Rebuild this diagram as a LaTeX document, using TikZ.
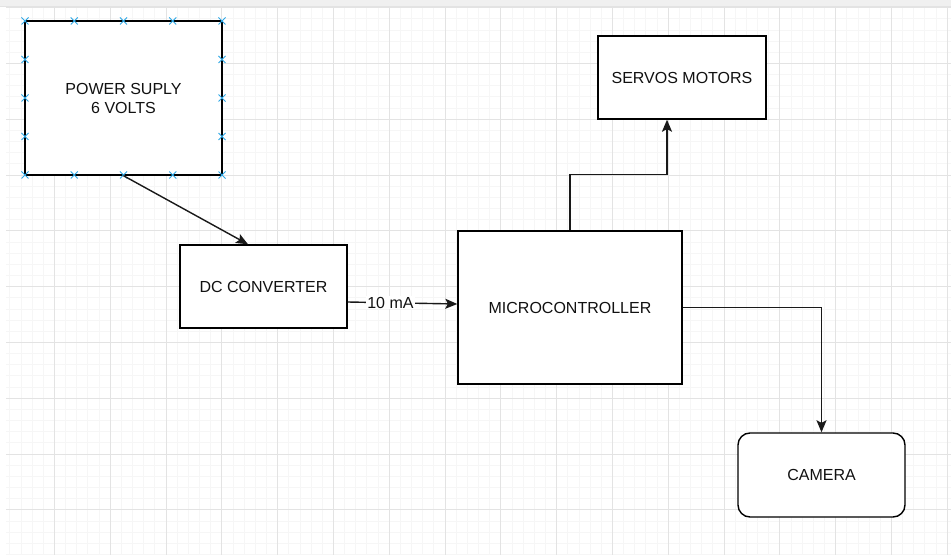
\documentclass[tikz,border=0pt]{standalone}
\usepackage{fontspec}
\setmainfont{Liberation Sans}
\usetikzlibrary{arrows.meta}
\definecolor{minorgrid}{HTML}{F6F6F6}
\definecolor{majorgrid}{HTML}{E3E3E3}
\definecolor{bandgray}{HTML}{F0F0F0}
\definecolor{xblue}{HTML}{2EA8E6}
\definecolor{txt}{HTML}{111111}
\tikzset{
  box/.style={draw=black, line width=1.4pt, fill=white, inner sep=0pt, align=center,
    font=\fontsize{16}{19}\selectfont, text=txt},
  conn/.style={line width=1.4pt, draw=black!90, -{Stealth[length=12pt,width=10pt,inset=2.5pt]}},
  xmark/.style={draw=xblue, line width=1pt},
}
\begin{document}
\begin{tikzpicture}[x=1pt,y=-1pt]
\useasboundingbox (0,0) rectangle (951,556);
\fill[white] (0,0) rectangle (951,556);
\fill[bandgray] (0,0) rectangle (951,6);
\draw[majorgrid, line width=1pt] (0,6.5) -- (951,6.5);
% grid
\begin{scope}
\clip (6,7) rectangle (951,555);
\foreach \i in {0,...,86} {
  \pgfmathsetmacro{\xx}{round(-1.8+11.16*\i)+0.5}
  \draw[minorgrid, line width=1pt] (\xx,7) -- (\xx,555);
}
\foreach \j in {0,...,49} {
  \pgfmathsetmacro{\yy}{round(7.2+11.16*\j)+0.5}
  \draw[minorgrid, line width=1pt] (6,\yy) -- (951,\yy);
}
\foreach \i in {0,...,17} {
  \pgfmathsetmacro{\xx}{round(-1.8+55.8*\i)+0.5}
  \draw[majorgrid, line width=1pt] (\xx,7) -- (\xx,555);
}
\foreach \j in {0,...,9} {
  \pgfmathsetmacro{\yy}{round(7.2+55.8*\j)+0.5}
  \draw[majorgrid, line width=1pt] (6,\yy) -- (951,\yy);
}
\end{scope}
% nodes
\node[box, minimum width=197pt, minimum height=154pt] (ps) at (123.5,98) {POWER SUPLY\\6 VOLTS};
\node[box, minimum width=167pt, minimum height=83pt] (dc) at (263.5,286.5) {DC CONVERTER};
\node[box, minimum width=224pt, minimum height=153pt] (mc) at (570,307.5) {MICROCONTROLLER};
\node[box, minimum width=168pt, minimum height=83pt] (sv) at (682,77.5) {SERVOS MOTORS};
\node[box, rounded corners=12pt, minimum width=167pt, minimum height=84pt] (cam) at (821.5,475) {CAMERA};
% connection-point marks on power supply
\foreach \px in {25,74.25,123.5,172.75,222} {
  \foreach \py in {21,175} {
    \draw[xmark] (\px-3.5,\py-3.5) -- (\px+3.5,\py+3.5) (\px-3.5,\py+3.5) -- (\px+3.5,\py-3.5);
  }
}
\foreach \py in {59.5,98,136.5} {
  \foreach \px in {25,222} {
    \draw[xmark] (\px-3.5,\py-3.5) -- (\px+3.5,\py+3.5) (\px-3.5,\py+3.5) -- (\px+3.5,\py-3.5);
  }
}
% connectors
\draw[conn] (ps.south) -- ([xshift=-15.5pt]dc.north);
\draw[conn] ([yshift=-15.5pt]dc.east) -- node[pos=0.39, fill=white, inner sep=1pt, font=\fontsize{16}{19}\selectfont, text=txt] (lbl) {10 mA} ([yshift=3.5pt]mc.west);
\draw[conn] (mc.north) -- ++(0,-56) -| ([xshift=-15pt]sv.south);
\draw[conn] (mc.east) -| (cam.north);
\end{tikzpicture}
\end{document}
